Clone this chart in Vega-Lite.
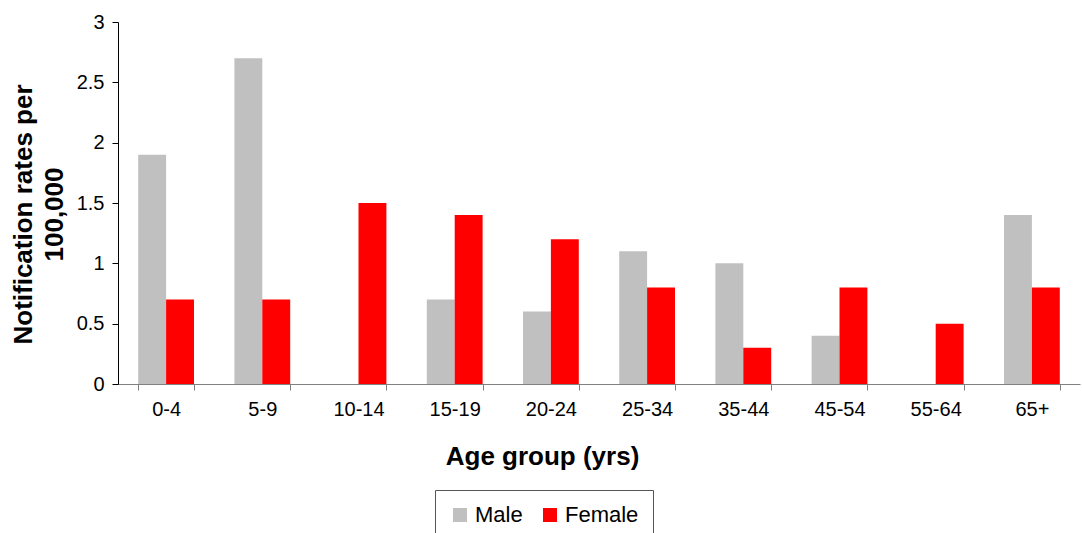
{
  "$schema": "https://vega.github.io/schema/vega-lite/v6.json",
  "autosize": {"type": "none"},
  "width": 962,
  "height": 362,
  "padding": {"left": 118, "top": 22, "right": 2, "bottom": 149},
  "background": "white",
  "config": {
    "view": {"stroke": null},
    "font": "Liberation Sans"
  },
  "data": {
    "values": [
      {"age": "0-4", "sex": "Male", "rate": 1.9},
      {"age": "0-4", "sex": "Female", "rate": 0.7},
      {"age": "5-9", "sex": "Male", "rate": 2.7},
      {"age": "5-9", "sex": "Female", "rate": 0.7},
      {"age": "10-14", "sex": "Male", "rate": 0},
      {"age": "10-14", "sex": "Female", "rate": 1.5},
      {"age": "15-19", "sex": "Male", "rate": 0.7},
      {"age": "15-19", "sex": "Female", "rate": 1.4},
      {"age": "20-24", "sex": "Male", "rate": 0.6},
      {"age": "20-24", "sex": "Female", "rate": 1.2},
      {"age": "25-34", "sex": "Male", "rate": 1.1},
      {"age": "25-34", "sex": "Female", "rate": 0.8},
      {"age": "35-44", "sex": "Male", "rate": 1.0},
      {"age": "35-44", "sex": "Female", "rate": 0.3},
      {"age": "45-54", "sex": "Male", "rate": 0.4},
      {"age": "45-54", "sex": "Female", "rate": 0.8},
      {"age": "55-64", "sex": "Male", "rate": 0},
      {"age": "55-64", "sex": "Female", "rate": 0.5},
      {"age": "65+", "sex": "Male", "rate": 1.4},
      {"age": "65+", "sex": "Female", "rate": 0.8}
    ]
  },
  "mark": {"type": "bar"},
  "encoding": {
    "x": {
      "field": "age",
      "type": "nominal",
      "sort": null,
      "scale": {"paddingInner": 0.42, "paddingOuter": 0.21},
      "axis": {
        "title": "Age group (yrs)",
        "titleFontSize": 26,
        "titleFontWeight": "bold",
        "titleColor": "black",
        "titleX": 424,
        "titleY": 72,
        "titleBaseline": "middle",
        "labelAngle": 0,
        "labelFontSize": 20,
        "labelColor": "black",
        "labelPadding": 9,
        "tickBand": "extent",
        "tickSize": 6,
        "tickColor": "#808080",
        "domainColor": "#808080",
        "grid": false
      }
    },
    "xOffset": {"field": "sex", "type": "nominal", "sort": ["Male", "Female"]},
    "y": {
      "field": "rate",
      "type": "quantitative",
      "scale": {"domain": [0, 3], "nice": false},
      "axis": {
        "title": ["Notification rates per", "100,000"],
        "titleFontSize": 26,
        "titleFontWeight": "bold",
        "titleColor": "black",
        "titleLineHeight": 31,
        "titleAngle": -90,
        "titleX": -87,
        "titleY": 192,
        "titleAlign": "center",
        "titleBaseline": "alphabetic",
        "values": [0, 0.5, 1, 1.5, 2, 2.5, 3],
        "format": "~g",
        "labelFontSize": 20,
        "labelColor": "black",
        "labelPadding": 8,
        "tickSize": 6,
        "tickColor": "black",
        "domainColor": "black",
        "grid": false
      }
    },
    "color": {
      "field": "sex",
      "type": "nominal",
      "scale": {"domain": ["Male", "Female"], "range": ["#C0C0C0", "#FF0000"]},
      "legend": {
        "title": null,
        "orient": "none",
        "legendX": 317,
        "legendY": 468,
        "direction": "horizontal",
        "columns": 2,
        "strokeColor": "#555555",
        "padding": 14,
        "symbolType": "square",
        "symbolSize": 196,
        "symbolStrokeWidth": 0,
        "symbolOpacity": 1,
        "labelFontSize": 22,
        "labelColor": "black",
        "columnPadding": 16,
        "labelOffset": 4
      }
    }
  }
}
